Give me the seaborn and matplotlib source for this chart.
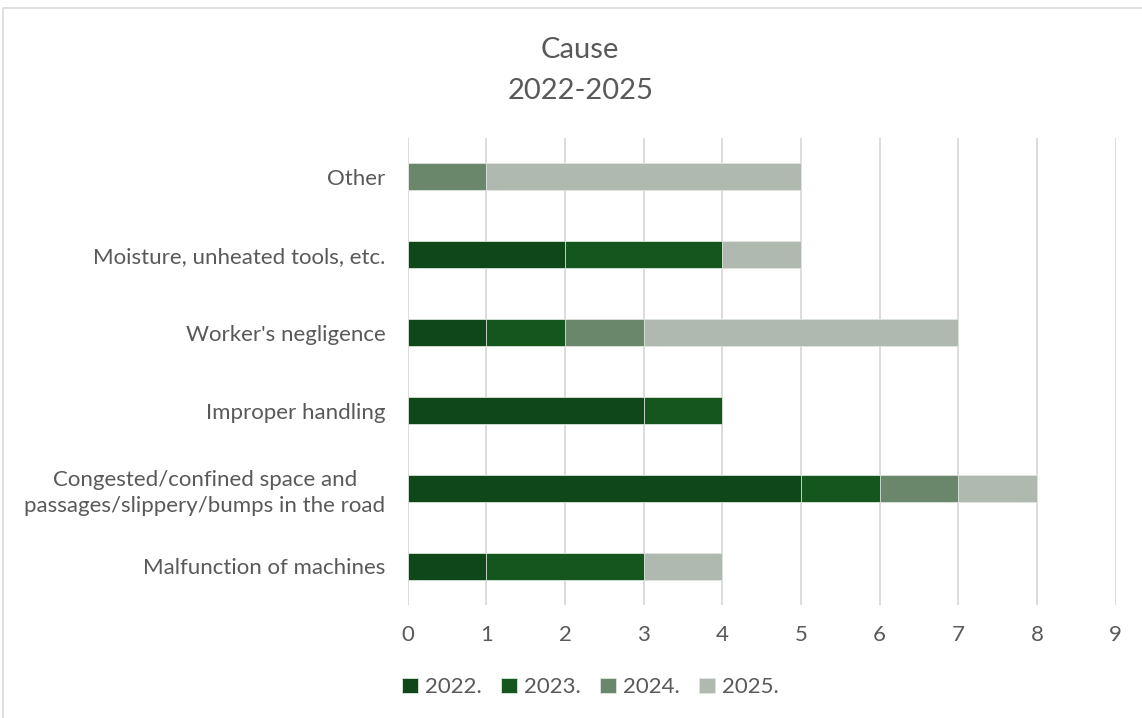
import matplotlib
matplotlib.use("Agg")
import matplotlib.pyplot as plt
import seaborn as sns
import pandas as pd
import numpy as np

# Data
causes = [
    "Other",
    "Moisture, unheated tools, etc.",
    "Worker's negligence",
    "Improper handling",
    "Congested/confined space and\npassages/slippery/bumps in the road",
    "Malfunction of machines",
]
years = ["2022.", "2023.", "2024.", "2025."]
v2022 = [0, 2, 1, 3, 5, 1]
v2023 = [0, 2, 1, 1, 1, 2]
v2024 = [1, 0, 1, 0, 1, 0]
v2025 = [4, 1, 4, 0, 1, 1]
colors = ["#0f4718", "#15561f", "#6a876c", "#afb9af"]

sns.set_style("white")
plt.rcParams['font.family'] = ['Lato', 'DejaVu Sans']
text_color = "#595959"

df = pd.DataFrame({"Cause": causes, "2022.": v2022, "2023.": v2023,
                   "2024.": v2024, "2025.": v2025})
# cumulative totals so the stacked bars can be overlaid
cum = df[years].cumsum(axis=1)

fig = plt.figure(figsize=(11.42, 7.18), dpi=100)
ax = fig.add_axes([0.357, 0.157, 0.620, 0.651])

for year, col in reversed(list(zip(years, colors))):
    sns.barplot(x=cum[year], y=df["Cause"], color=col, width=0.35, saturation=1,
                edgecolor="#dfe6df", linewidth=0.6, ax=ax, orient="h",
                label=year, zorder=3)

handles, labels = ax.get_legend_handles_labels()
if ax.get_legend() is not None:
    ax.get_legend().remove()

ax.set_xlim(0, 9)
ax.set_xticks(range(0, 10))
ax.set_xlabel("")
ax.set_ylabel("")
ax.grid(axis="x", color="#d9d9d9", linewidth=1.3, zorder=0)
ax.grid(axis="y", visible=False)
for s in ax.spines.values():
    s.set_visible(False)
ax.tick_params(axis="both", length=0, labelsize=16, labelcolor=text_color)
ax.tick_params(axis="x", pad=14)
ax.tick_params(axis="y", pad=16)
for lbl in ax.get_yticklabels():
    lbl.set_multialignment("center")
    lbl.set_linespacing(1.35)

ax.set_ylim(5.5, -0.5)

# Title
fig.text(0.508, 0.930, "Cause", ha="center", va="center", fontsize=21, color=text_color)
fig.text(0.508, 0.873, "2022-2025", ha="center", va="center", fontsize=21, color=text_color)

# Legend in year order
order = [labels.index(y) for y in years]
leg = fig.legend([handles[i] for i in order], [labels[i] for i in order],
                 loc="center", bbox_to_anchor=(0.517, 0.043), ncol=4, frameon=False,
                 fontsize=16, handlelength=0.7, handleheight=0.7,
                 handletextpad=0.3, columnspacing=0.9)
for t in leg.get_texts():
    t.set_color(text_color)

# outer chart border
fig.patches.append(plt.Rectangle((0.003, -0.05), 1.2, 1.039, transform=fig.transFigure,
                                 fill=False, edgecolor="#d9d9d9", linewidth=1.2))

fig.savefig("out.png", dpi=100)
